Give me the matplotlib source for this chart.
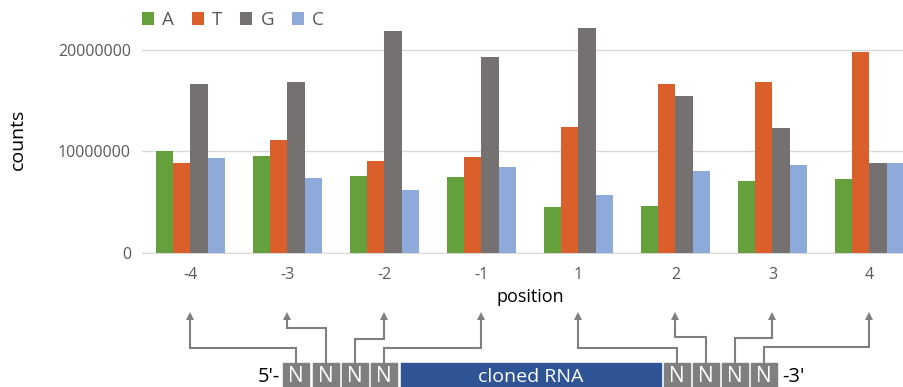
import numpy as np
import matplotlib.pyplot as plt
from matplotlib.patches import Rectangle

plt.rcParams['font.family'] = ['Open Sans', 'DejaVu Sans']

# data
positions = ['-4', '-3', '-2', '-1', '1', '2', '3', '4']
bases = ['A', 'T', 'G', 'C']
A = [10.05e6, 9.6e6, 7.6e6, 7.5e6, 4.5e6, 4.66e6, 7.1e6, 7.26e6]
T = [8.87e6, 11.1e6, 9.06e6, 9.5e6, 12.4e6, 16.6e6, 16.8e6, 19.8e6]
G = [16.6e6, 16.8e6, 21.9e6, 19.3e6, 22.2e6, 15.5e6, 12.3e6, 8.87e6]
C = [9.33e6, 7.36e6, 6.2e6, 8.5e6, 5.7e6, 8.08e6, 8.7e6, 8.87e6]
series = [A, T, G, C]
colors = ['#64a03c', '#db5f2a', '#767171', '#8eaadb']

W, H = 904, 387
fig = plt.figure(figsize=(W / 100, H / 100), dpi=100)
ax = fig.add_axes([142 / W, (H - 253) / H, 776 / W, 228 / H])

x = np.arange(len(positions))
w = 0.18
bars = []
for k, (vals, col) in enumerate(zip(series, colors)):
    b = ax.bar(x + (k - 1.5) * w, vals, width=w, color=col, zorder=3)
    bars.append(b)

ax.set_xlim(-0.5, len(positions) - 0.5)
ax.set_ylim(0, 22.46e6)
ax.set_yticks([0, 10000000, 20000000])
ax.set_yticklabels(['0', '10000000', '20000000'])
ax.set_xticks(x)
ax.set_xticklabels(positions)
ax.tick_params(length=0, labelsize=11.5, labelcolor='#595959')
ax.tick_params(axis='y', pad=8)
ax.tick_params(axis='x', pad=10)
ax.grid(axis='y', color='#d9d9d9', lw=1, zorder=0)
for s in ['top', 'right', 'left']:
    ax.spines[s].set_visible(False)
ax.spines['bottom'].set_color('#d9d9d9')
ax.set_ylabel('counts', fontsize=14, labelpad=22)
ax.set_xlabel('position', fontsize=13, labelpad=4)

leg = ax.legend(bars, bases, loc='center left', bbox_to_anchor=(0, 1 + 5 / 228), ncol=4,
                frameon=False, fontsize=13.5, handlelength=0.64, handleheight=0.64,
                handletextpad=0.43, columnspacing=0.96, borderaxespad=0, borderpad=0)
for t in leg.get_texts():
    t.set_color('#595959')

# sequence diagram below, in pixel coordinates
dax = fig.add_axes([0, 0, 1, 1])
dax.set_xlim(0, W)
dax.set_ylim(H, 0)
dax.axis('off')

fig.canvas.draw()
cat_px = [ax.transData.transform((i, 0))[0] for i in x]

box_left = [283, 313, 342, 371, 664, 692.7, 721.7, 750.7]
box_w = 26.5
levels = [348, 328, 339, 348, 348, 337, 338, 347]
box_top = 363
line_col = '#7f7f7f'
for bl, lv, cx in zip(box_left, levels, cat_px):
    bx = bl + box_w / 2
    dax.add_patch(Rectangle((bl, box_top), box_w, 40, color='#7f7f7f'))
    dax.text(bx, 377, 'N', color='white', ha='center', va='center', fontsize=15)
    dax.plot([bx, bx, cx, cx], [box_top, lv, lv, 320], color=line_col, lw=1.5,
             solid_joinstyle='miter')
    dax.plot([cx], [316], marker='^', color=line_col, ms=6, mew=0)

dax.add_patch(Rectangle((401, box_top), 260, 40, color='#2f5597'))
dax.text(531, 377, 'cloned RNA', color='white', ha='center', va='center', fontsize=14)
dax.text(280, 377, "5'-", ha='right', va='center', fontsize=14.5)
dax.text(782, 377, "-3'", ha='left', va='center', fontsize=14.5)

fig.savefig('out.png', dpi=100)
